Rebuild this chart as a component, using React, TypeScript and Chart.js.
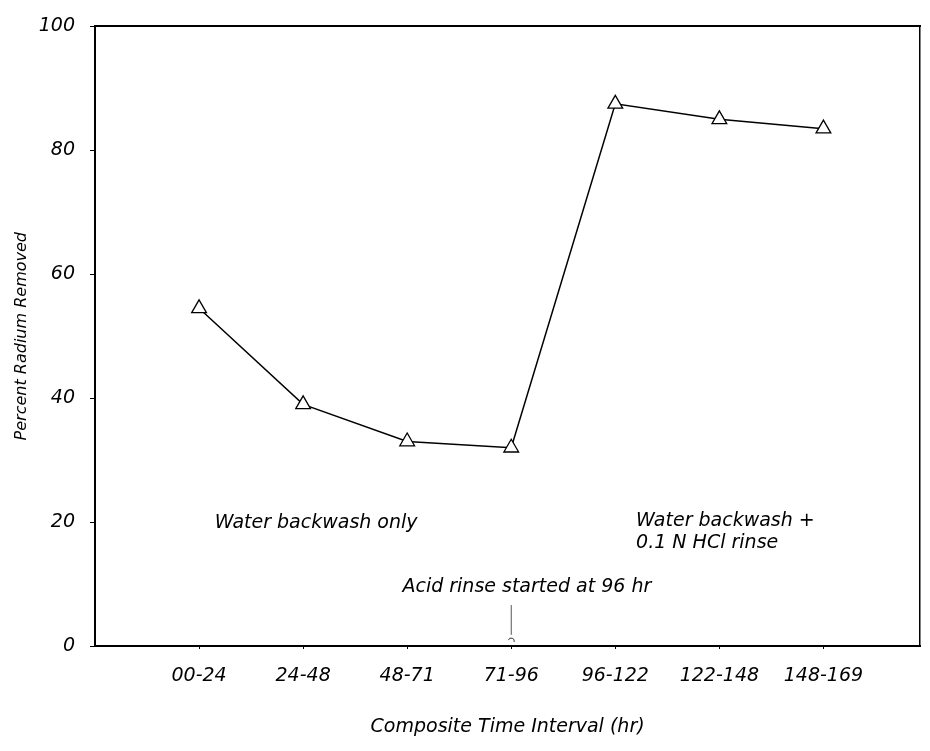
import React, { useEffect, useRef } from 'react';
import { Chart, registerables } from 'chart.js';

Chart.register(...registerables);

// ---- data ----
const categories = ['00-24', '24-48', '48-71', '71-96', '96-122', '122-148', '148-169'];
const percentRemoved = [54.5, 39, 33, 32, 87.5, 85, 83.5];
const yTickValues = [0, 20, 40, 60, 80, 100];
const xTitle = 'Composite Time Interval (hr)';
const yTitle = 'Percent Radium Removed';

// annotation texts (in data coordinates)
const noteTexts = [
  { lines: ['Water backwash only'], x: 1.15, y: 19.8, align: 'left' },
  { lines: ['Water backwash +', '0.1 N HCl rinse'], x: 5.2, y: 20.1, align: 'left' },
  { lines: ['Acid rinse started at 96 hr'], x: 4.15, y: 9.5, align: 'center' },
];
const pointer = { x: 4, from: 6.6, to: 1.8, hook: 0.8 };

const FAMILY = '"DejaVu Sans", sans-serif';
const font = { family: FAMILY, size: 19, style: 'italic' as const, lineHeight: 1.2 };

const annotationPlugin = {
  id: 'notes',
  afterDatasetsDraw(chart: any) {
    const { ctx, scales } = chart;
    const xs = scales.x;
    const ys = scales.y;
    ctx.save();
    ctx.fillStyle = '#000';
    ctx.font = `italic 19px ${FAMILY}`;
    ctx.textBaseline = 'middle';
    for (const n of noteTexts) {
      ctx.textAlign = n.align;
      const px = xs.getPixelForValue(n.x);
      const py = ys.getPixelForValue(n.y);
      n.lines.forEach((l, i) => ctx.fillText(l, px, py + i * 22));
    }
    // pointer line
    const px = xs.getPixelForValue(pointer.x);
    ctx.strokeStyle = '#555';
    ctx.lineWidth = 1;
    ctx.beginPath();
    ctx.moveTo(px, ys.getPixelForValue(pointer.from));
    ctx.lineTo(px, ys.getPixelForValue(pointer.to));
    ctx.stroke();
    ctx.strokeStyle = '#333';
    ctx.beginPath();
    ctx.arc(px, ys.getPixelForValue(pointer.hook), 3, Math.PI * 1.1, Math.PI * 2.1);
    ctx.stroke();
    ctx.restore();
  },
};

export default function App() {
  const ref = useRef<HTMLCanvasElement>(null);
  useEffect(() => {
    document.body.style.margin = '0';
    const canvas = ref.current;
    if (!canvas) return;
    const chart = new Chart(canvas, {
      type: 'line',
      data: {
        datasets: [
          {
            data: percentRemoved.map((v, i) => ({ x: i + 1, y: v })),
            borderColor: '#000',
            borderWidth: 1.5,
            pointStyle: 'triangle',
            pointRadius: 8.5,
            pointBackgroundColor: '#fff',
            pointBorderColor: '#000',
            pointBorderWidth: 1.3,
            tension: 0,
            clip: false as any,
          },
        ],
      },
      options: {
        responsive: false,
        animation: false,
        devicePixelRatio: 1,
        layout: { padding: { top: 24, right: 9, left: 0, bottom: 0 } },
        plugins: { legend: { display: false }, tooltip: { enabled: false } },
        scales: {
          x: {
            type: 'linear',
            position: 'bottom',
            min: 0,
            max: 7.93,
            afterBuildTicks: (s: any) => {
              s.ticks = categories.map((_, i) => ({ value: i + 1 }));
            },
            afterFit: (s: any) => {
              s.height = 105;
            },
            ticks: {
              callback: (v: any) => categories[Math.round(v) - 1] ?? '',
              font,
              color: '#000',
              padding: 16,
              maxRotation: 0,
              autoSkip: false,
            },
            grid: { display: true, drawOnChartArea: false, drawTicks: true, tickLength: 3, color: '#000', lineWidth: 1 },
            border: { display: true, color: '#000', width: 2 },
            title: { display: true, text: xTitle, font, color: '#000', padding: { top: 0, bottom: 13 } },
          },
          y: {
            type: 'linear',
            position: 'left',
            min: 0,
            max: 100,
            afterBuildTicks: (s: any) => {
              s.ticks = yTickValues.map((v) => ({ value: v }));
            },
            afterFit: (s: any) => {
              s.width = 95;
            },
            ticks: { font, color: '#000', padding: 15 },
            grid: { display: true, drawOnChartArea: false, drawTicks: true, tickLength: 5, color: '#000', lineWidth: 1 },
            border: { display: true, color: '#000', width: 2 },
            title: {
              display: true,
              text: yTitle,
              font: { family: FAMILY, size: 16, style: 'italic', lineHeight: 1.2 },
              color: '#000',
              padding: { top: 12, bottom: 0 },
            },
          },
          x2: {
            type: 'linear',
            position: 'top',
            min: 0,
            max: 7.93,
            ticks: { display: false },
            grid: { display: false },
            border: { display: true, color: '#000', width: 2 },
            afterFit: (s: any) => {
              s.height = 0;
            },
          },
          y2: {
            type: 'linear',
            position: 'right',
            min: 0,
            max: 100,
            ticks: { display: false },
            grid: { display: false },
            border: { display: true, color: '#000', width: 1.5 },
            afterFit: (s: any) => {
              s.width = 0;
            },
          },
        },
      } as any,
      plugins: [annotationPlugin],
    });
    return () => chart.destroy();
  }, []);
  return (
    <div style={{ width: 930, height: 751, background: '#fff' }}>
      <canvas ref={ref} width={930} height={751} style={{ display: 'block' }} />
    </div>
  );
}
